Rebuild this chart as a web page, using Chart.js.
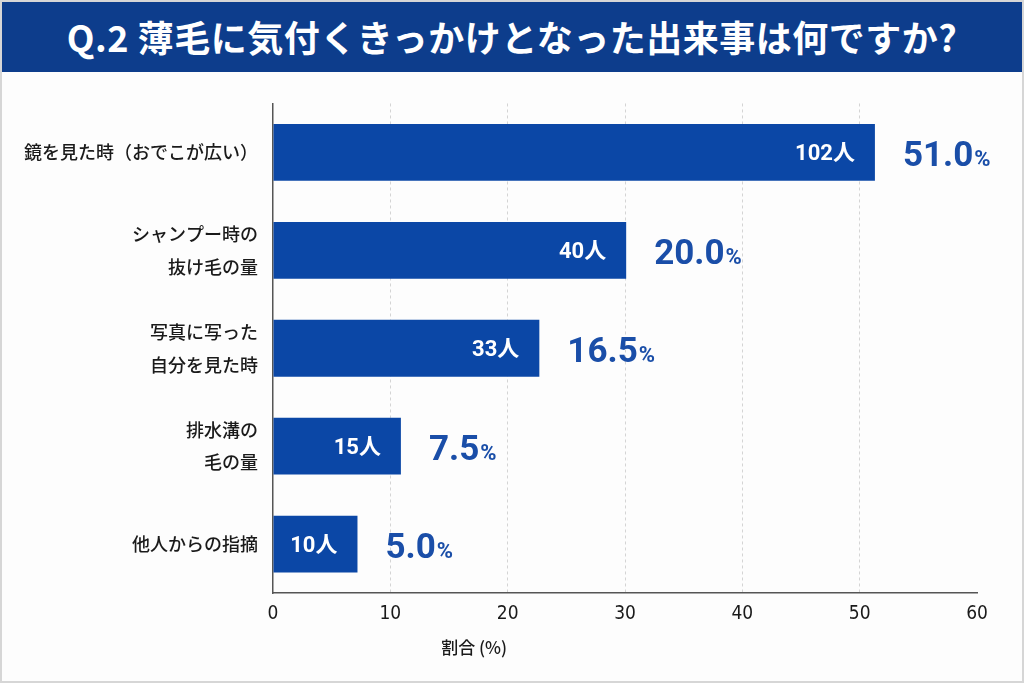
<!DOCTYPE html>
<html>
<head>
<meta charset="utf-8">
<script src="https://cdn.jsdelivr.net/npm/chart.js@4"></script>
<style>
  html, body { margin: 0; padding: 0; background: #fff; }
  #page { position: relative; width: 1024px; height: 683px; overflow: hidden; background: #fdfdfd; }
  #head {
    position: absolute; left: 0; top: 0; width: 1024px; height: 72px;
    background: #0d3d8c; color: #fff;
    font: bold 36px "Noto Sans CJK JP", Roboto, sans-serif;
    display: flex; align-items: center; justify-content: center;
    letter-spacing: 0.5px;
  }
  #box { position: absolute; left: 0; top: 72px; width: 1024px; height: 611px; }
  #frame { position: absolute; left: 0; top: 0; width: 1024px; height: 683px; box-sizing: border-box; border: 2px solid #d6d6d6; pointer-events: none; }
</style>
</head>
<body>
<div id="page">
  <div id="head">Q.2 薄毛に気付くきっかけとなった出来事は何ですか?</div>
  <div id="box"><canvas id="chart"></canvas></div>
  <div id="frame"></div>
</div>
<script>
// categories (multi-line labels)
const categories = [
  ["鏡を見た時（おでこが広い）"],
  ["シャンプー時の", "抜け毛の量"],
  ["写真に写った", "自分を見た時"],
  ["排水溝の", "毛の量"],
  ["他人からの指摘"]
];
// bar lengths as drawn on the axis
const barValues = [51.3, 30.1, 22.7, 10.9, 7.2];
// labels written on / beside the bars
const counts = ["102", "40", "33", "15", "10"];
const percents = ["51.0", "20.0", "16.5", "7.5", "5.0"];
const xTicks = [0, 10, 20, 30, 40, 50, 60];

const BAR = "#0b47a6";
const PCT = "#1a4ea8";

const labelPlugin = {
  id: "barLabels",
  afterDatasetsDraw(chart) {
    const ctx = chart.ctx;
    const meta = chart.getDatasetMeta(0);
    ctx.save();
    ctx.textBaseline = "alphabetic";
    meta.data.forEach((bar, i) => {
      const y = bar.y;
      // count inside the bar
      ctx.fillStyle = "#fff";
      ctx.font = "bold 22px Roboto, 'Noto Sans CJK JP', sans-serif";
      ctx.textAlign = "right";
      ctx.fillText(counts[i] + "人", bar.x - 20, y + 8);
      // percent beside the bar
      ctx.textAlign = "left";
      ctx.fillStyle = PCT;
      ctx.font = "bold 35px Roboto, sans-serif";
      const x0 = bar.x + 28;
      ctx.fillText(percents[i], x0, y + 14);
      const w = ctx.measureText(percents[i]).width;
      ctx.font = "bold 22px Roboto, sans-serif";
      ctx.fillText("%", x0 + w + 1, y + 14);
    });
    // axis title
    ctx.fillStyle = "#1a1a1a";
    ctx.font = "500 17px 'Noto Sans CJK JP', sans-serif";
    ctx.textAlign = "center";
    ctx.textBaseline = "middle";
    ctx.fillText("割合 (%)", chart.width * 0.463, 576);
    ctx.restore();
  }
};

new Chart(document.getElementById("chart"), {
  type: "bar",
  data: {
    labels: categories,
    datasets: [{
      data: barValues,
      backgroundColor: BAR,
      borderWidth: 0,
      categoryPercentage: 1,
      barPercentage: 0.58
    }]
  },
  options: {
    indexAxis: "y",
    responsive: true,
    maintainAspectRatio: false,
    animation: false,
    layout: { padding: { top: 28, right: 47, bottom: 0, left: 0 } },
    plugins: {
      legend: { display: false },
      tooltip: { enabled: false }
    },
    scales: {
      x: {
        min: 0,
        max: 60,
        afterBuildTicks: (s) => { s.ticks = xTicks.map(v => ({ value: v })); },
        afterFit: (s) => { s.height = 90; },
        grid: {
          color: (c) => (c.tick && c.tick.value > 0 && c.tick.value < 60) ? "#d4d4d4" : "rgba(0,0,0,0)",
          lineWidth: 1,
          drawTicks: false
        },
        border: { display: true, color: "#555", width: 1.5, dash: [3, 3] },
        ticks: {
          color: "#1a1a1a",
          padding: 10,
          font: { family: "'Liberation Sans Narrow', 'DejaVu Sans Condensed', Roboto, sans-serif", size: 19 }
        }
      },
      y: {
        afterFit: (s) => { s.width = 273; },
        grid: { display: false, drawTicks: false },
        border: { display: true, color: "#555", width: 1.5 },
        ticks: {
          color: "#1a1a1a",
          padding: 15,
          font: { family: "'Noto Sans CJK JP', sans-serif", size: 18, weight: 500, lineHeight: 1.83 }
        }
      }
    }
  },
  plugins: [labelPlugin]
});
</script>
</body>
</html>
